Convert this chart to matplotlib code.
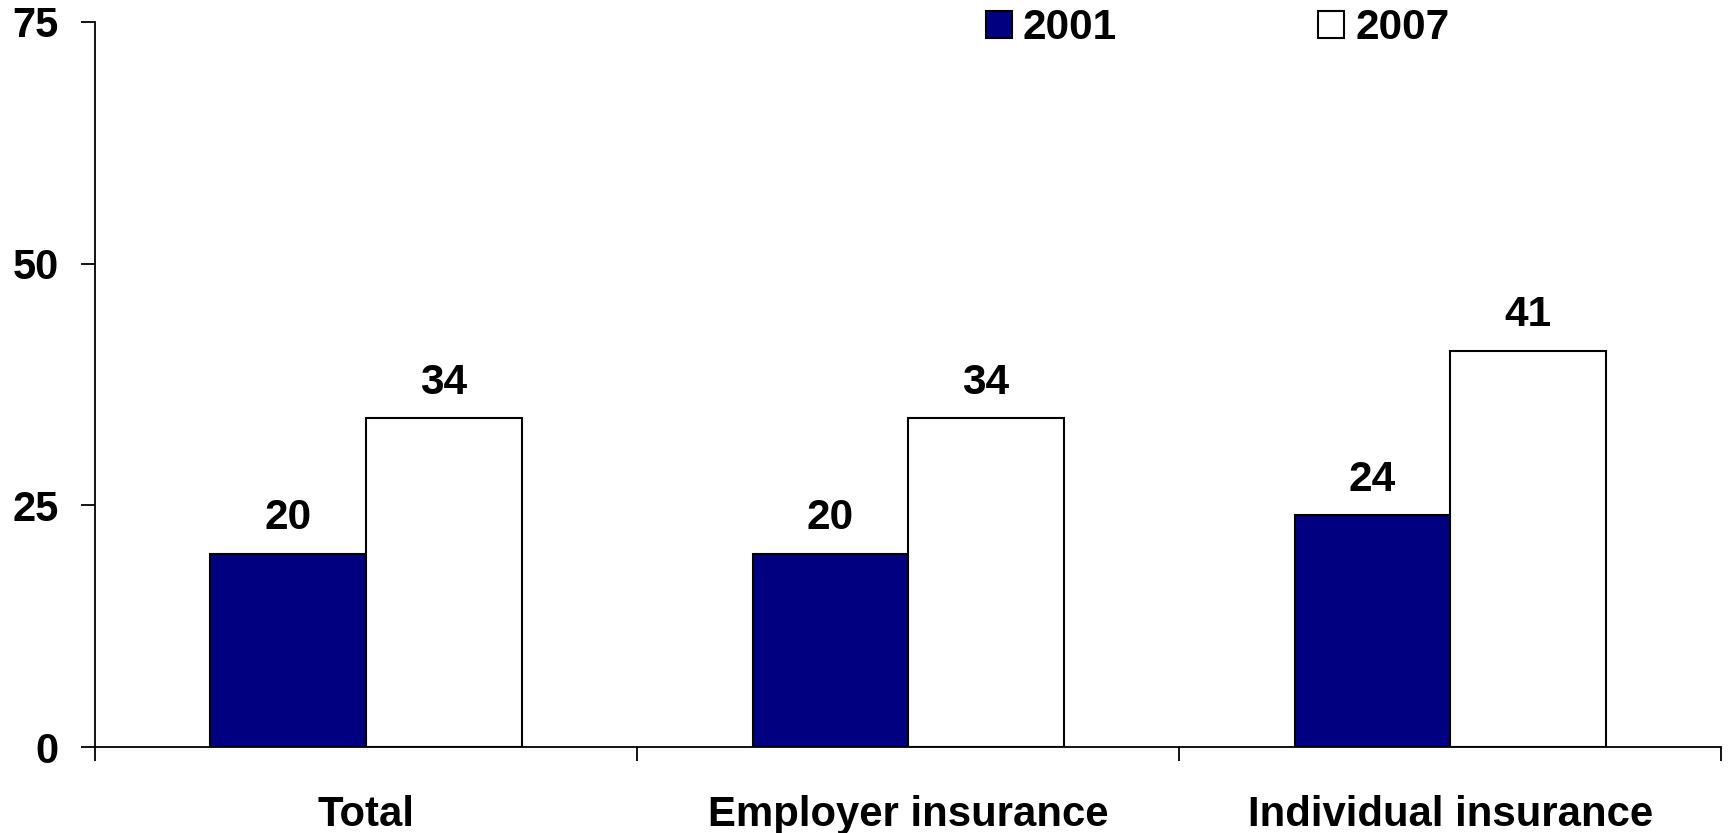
import numpy as np
import matplotlib
matplotlib.use("Agg")
import matplotlib.pyplot as plt

plt.rcParams['font.family'] = ['Liberation Sans', 'DejaVu Sans']
plt.rcParams['font.weight'] = 'bold'

# data
categories = ['Total', 'Employer insurance', 'Individual insurance']
years = ['2001', '2007']
vals_2001 = [20, 20, 24]
vals_2007 = [34, 34, 41]
yticks = [0, 25, 50, 75]

fig = plt.figure(figsize=(17.3, 8.33), dpi=100)
ax = fig.add_axes([0.0549, 0.1032, 0.9400, 0.8704])

x = np.arange(len(categories))
w = 0.287
b1 = ax.bar(x - w / 2, vals_2001, w, color='#000080', edgecolor='black', linewidth=1.5, label=years[0])
b2 = ax.bar(x + w / 2, vals_2007, w, color='white', edgecolor='black', linewidth=1.5, label=years[1])

# value labels above bars
for bars in (b1, b2):
    for r in bars:
        ax.annotate(f"{r.get_height():.0f}", (r.get_x() + r.get_width() / 2, r.get_height()),
                    xytext=(0, 11), textcoords='offset points', ha='center', va='bottom',
                    fontsize=30.5, fontweight='bold')

ax.set_xlim(-0.5, 2.5)
ax.set_ylim(0, 75)
ax.set_yticks(yticks)
ax.set_yticklabels([str(t) for t in yticks], fontsize=30, fontweight='bold')
ax.tick_params(axis='y', direction='out', length=10, width=1.3, pad=16)

ax.set_xticks(x)
ax.set_xticklabels(categories, fontsize=30.2, fontweight='bold')
ax.set_xticks([-0.5, 0.5, 1.5, 2.5], minor=True)
ax.tick_params(axis='x', which='major', length=0, pad=34.5)
ax.tick_params(axis='x', which='minor', direction='out', length=10, width=1.3)

for s in ['top', 'right']:
    ax.spines[s].set_visible(False)
for s in ['left', 'bottom']:
    ax.spines[s].set_linewidth(1.3)

ax.legend(loc='upper left', bbox_to_anchor=(0.570, 0.99), bbox_transform=fig.transFigure,
          ncol=2, frameon=False, handlelength=0.6, handleheight=0.6,
          handletextpad=0.27, columnspacing=4.75, borderpad=0, borderaxespad=0,
          prop={'weight': 'bold', 'size': 30.5})

fig.savefig('out.png', dpi=100)
